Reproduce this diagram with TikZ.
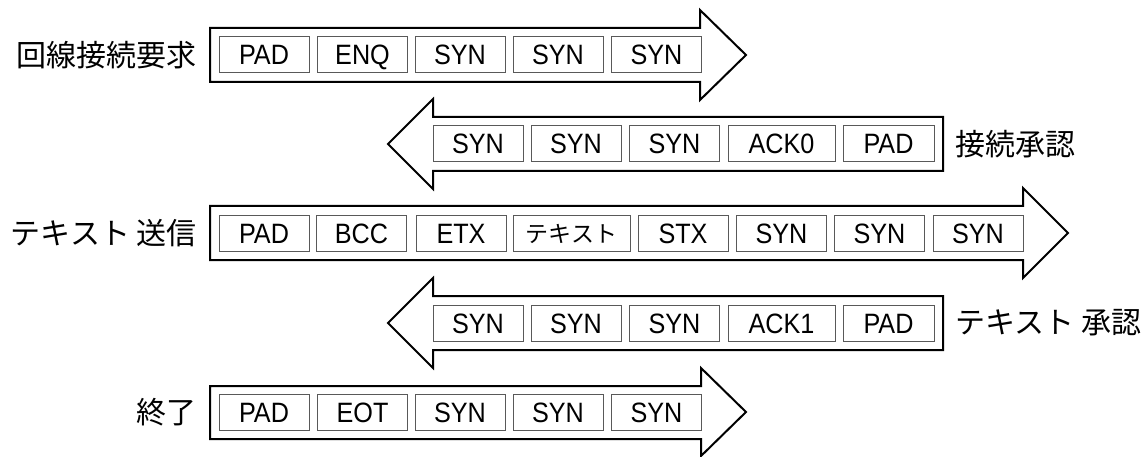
\documentclass[tikz,border=0pt]{standalone}
\usepackage{fontspec}
\newfontfamily\jp{Noto Sans CJK JP}
\newfontfamily\lat[FakeStretch=0.9]{Liberation Sans}
\begin{document}
\begin{tikzpicture}[x=1pt,y=-1pt,
  arrowshape/.style={draw=black, line width=2pt, line join=miter, fill=white},
  cell/.style={draw=black!65, line width=1pt, fill=white, minimum height=36pt, minimum width=90pt, inner sep=0pt,
    text height=20pt, text depth=0pt, font=\lat\fontsize{28}{30}\selectfont},
  jcell/.style={cell, font=\jp\fontsize{23}{25}\selectfont, text height=18pt},
  lbl/.style={inner sep=0pt, font=\jp\fontsize{30}{32}\selectfont}]
\useasboundingbox (0,0) rectangle (1148,457);

% row 1 : right arrow
\draw[arrowshape] (210,28) -- (700,28) -- (700,10) -- (746,55) -- (700,100) -- (700,82) -- (210,82) -- cycle;
\node[cell] (a1) at (264,55) {PAD};
\node[cell] (a2) at (362.5,55) {ENQ};
\node[cell] (a3) at (460,55) {SYN};
\node[cell] (a4) at (558,55) {SYN};
\node[cell] (a5) at (656.5,55) {SYN};
\node[lbl, anchor=east] (la) at (197,55) {回線接続要求};

% row 2 : left arrow
\draw[arrowshape] (943,117) -- (433,117) -- (433,99) -- (388,144) -- (433,189) -- (433,171) -- (943,171) -- cycle;
\node[cell] (b1) at (478,144) {SYN};
\node[cell] (b2) at (576,144) {SYN};
\node[cell] (b3) at (674.5,144) {SYN};
\node[cell, minimum width=107pt] (b4) at (781.5,144) {ACK0};
\node[cell, minimum width=91pt] (b5) at (888.5,144) {PAD};
\node[lbl, anchor=west] (lb) at (955,144) {接続承認};

% row 3 : right arrow
\draw[arrowshape] (210,206) -- (1023,206) -- (1023,188) -- (1068,233) -- (1023,278) -- (1023,260) -- (210,260) -- cycle;
\node[cell] (c1) at (264,233.5) {PAD};
\node[cell] (c2) at (361.5,233.5) {BCC};
\node[cell] (c3) at (461,233.5) {ETX};
\node[jcell, minimum width=117pt] (c4) at (571.5,233.5) {テキスト};
\node[cell] (c5) at (683,233.5) {STX};
\node[cell] (c6) at (781.5,233.5) {SYN};
\node[cell] (c7) at (879.5,233.5) {SYN};
\node[cell] (c8) at (978,233.5) {SYN};
\node[lbl, anchor=east] (lc) at (197,233) {テキスト 送信};

% row 4 : left arrow
\draw[arrowshape] (943,296) -- (433,296) -- (433,278) -- (388,323) -- (433,368) -- (433,350) -- (943,350) -- cycle;
\node[cell] (d1) at (478,323) {SYN};
\node[cell] (d2) at (576,323) {SYN};
\node[cell] (d3) at (674.5,323) {SYN};
\node[cell, minimum width=107pt] (d4) at (781.5,323) {ACK1};
\node[cell, minimum width=91pt] (d5) at (888.5,323) {PAD};
\node[lbl, anchor=west] (ld) at (955,323) {テキスト 承認};

% row 5 : right arrow
\draw[arrowshape] (210,386) -- (701,386) -- (701,368) -- (746,412) -- (701,456) -- (701,439) -- (210,439) -- cycle;
\node[cell] (e1) at (264,412) {PAD};
\node[cell] (e2) at (362.5,412) {EOT};
\node[cell] (e3) at (460,412) {SYN};
\node[cell] (e4) at (558,412) {SYN};
\node[cell] (e5) at (656.5,412) {SYN};
\node[lbl, anchor=east] (le) at (197,412) {終了};
\end{tikzpicture}
\end{document}
